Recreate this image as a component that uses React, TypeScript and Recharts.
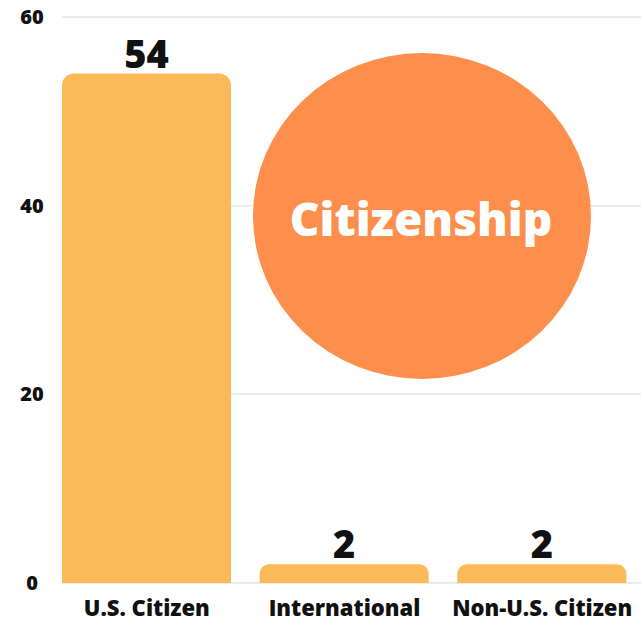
import React from 'react';
import { BarChart, Bar, XAxis, YAxis, CartesianGrid, LabelList, Customized } from 'recharts';

const categories = ['U.S. Citizen', 'International', 'Non-U.S. Citizen'];
const counts = [54, 2, 2];
const yTicks = [0, 20, 40, 60];

const data = categories.map((name, i) => ({ name, value: counts[i] }));

const FONT = '"Open Sans", sans-serif';

const YTick = (props: any) => {
  const { y, payload } = props;
  return (
    <text x={32} y={y} dy={7} textAnchor="middle" fontFamily={FONT} fontWeight={800} fontSize={20} fill="#111">
      {payload.value}
    </text>
  );
};

const XTick = (props: any) => {
  const { x, y, payload } = props;
  return (
    <text x={x} y={y} dy={25} textAnchor="middle" fontFamily={FONT} fontWeight={800} fontSize={22} fill="#111">
      {payload.value}
    </text>
  );
};

const GridLine = (props: any) => {
  const { x1, x2, y1, y2 } = props;
  return <line x1={x1 + 14} x2={x2} y1={y1} y2={y2} stroke="#e6e6e6" strokeWidth={1.5} />;
};

const Badge = () => (
  <g>
    <ellipse cx={422} cy={216} rx={169} ry={163} fill="#FD8E4B" />
    <text x={421} y={220} dy={16} textAnchor="middle" fontFamily={FONT} fontWeight={800} fontSize={46} fill="#fff">
      Citizenship
    </text>
  </g>
);

const App: React.FC = () => {
  return (
    <div style={{ position: 'absolute', left: 0, top: 0, background: '#fff' }}>
      <BarChart width={641} height={627} data={data} margin={{ top: 17, right: 0, bottom: 0, left: 0 }} barSize={169}>
        <CartesianGrid vertical={false} horizontal={GridLine} />
        <YAxis
          domain={[0, 60]}
          ticks={yTicks}
          axisLine={false}
          tickLine={false}
          width={48}
          tick={YTick}
        />
        <XAxis dataKey="name" axisLine={false} tickLine={false} height={44} tick={XTick} interval={0} />
        <Bar dataKey="value" fill="#FBB957" radius={[12, 12, 0, 0]} isAnimationActive={false}>
          <LabelList
            dataKey="value"
            position="top"
            offset={6}
            style={{ fontFamily: FONT, fontWeight: 800, fontSize: 38, fill: '#111' }}
          />
        </Bar>
        <Customized component={Badge} />
      </BarChart>
    </div>
  );
};

export default App;
